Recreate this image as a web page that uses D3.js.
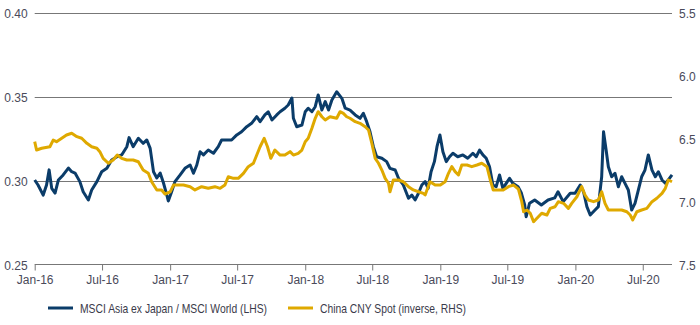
<!DOCTYPE html>
<html><head><meta charset="utf-8">
<script src="https://cdn.jsdelivr.net/npm/d3@7"></script>
<style>
html,body{margin:0;padding:0;background:#fff;}
svg text{font-family:"Liberation Sans",Arial,sans-serif;}
</style></head>
<body><svg id="c" width="700" height="325"></svg>
<script>
const seriesNames = ["MSCI Asia ex Japan / MSCI World (LHS)", "China CNY Spot (inverse, RHS)"];
const leftTicks = [0.25, 0.30, 0.35, 0.40];
const rightTicks = [5.5, 6.0, 6.5, 7.0, 7.5];
const xTickLabels = ["Jan-16","Jul-16","Jan-17","Jul-17","Jan-18","Jul-18","Jan-19","Jul-19","Jan-20","Jul-20"];
const xTickDates = ["2016-01-01","2016-07-01","2017-01-01","2017-07-01","2018-01-01","2018-07-01","2019-01-01","2019-07-01","2020-01-01","2020-07-01"];

const msciDates = ["2016-01-01","2016-01-10","2016-01-24","2016-02-02","2016-02-09","2016-02-16","2016-02-25","2016-03-05","2016-03-18","2016-04-01","2016-04-10","2016-04-19","2016-05-02","2016-05-11","2016-05-25","2016-06-03","2016-06-17","2016-06-30","2016-07-14","2016-07-27","2016-08-10","2016-08-23","2016-09-06","2016-09-12","2016-09-23","2016-10-07","2016-10-20","2016-10-30","2016-11-08","2016-11-17","2016-11-26","2016-12-05","2016-12-14","2016-12-23","2016-12-27","2017-01-05","2017-01-14","2017-01-28","2017-02-10","2017-02-24","2017-03-05","2017-03-14","2017-03-23","2017-04-01","2017-04-14","2017-04-28","2017-05-11","2017-05-20","2017-06-03","2017-06-16","2017-06-30","2017-07-13","2017-07-27","2017-08-09","2017-08-23","2017-09-01","2017-09-14","2017-09-23","2017-10-03","2017-10-16","2017-10-25","2017-11-07","2017-11-16","2017-11-26","2017-11-30","2017-12-09","2017-12-23","2018-01-01","2018-01-09","2018-01-19","2018-01-28","2018-02-05","2018-02-15","2018-02-24","2018-03-05","2018-03-14","2018-03-27","2018-04-10","2018-04-19","2018-05-02","2018-05-16","2018-05-29","2018-06-07","2018-06-16","2018-06-25","2018-07-04","2018-07-13","2018-07-27","2018-08-09","2018-08-18","2018-09-01","2018-09-10","2018-09-23","2018-10-07","2018-10-16","2018-10-25","2018-11-03","2018-11-12","2018-11-21","2018-11-29","2018-12-07","2018-12-16","2018-12-23","2018-12-31","2019-01-08","2019-01-17","2019-01-26","2019-02-04","2019-02-17","2019-03-03","2019-03-16","2019-03-30","2019-04-08","2019-04-17","2019-04-26","2019-05-05","2019-05-14","2019-05-23","2019-06-01","2019-06-10","2019-06-19","2019-06-28","2019-07-07","2019-07-16","2019-07-30","2019-08-08","2019-08-17","2019-08-21","2019-08-30","2019-09-13","2019-10-01","2019-10-19","2019-11-06","2019-11-15","2019-11-29","2019-12-18","2019-12-31","2020-01-14","2020-01-23","2020-02-01","2020-02-10","2020-02-23","2020-03-03","2020-03-12","2020-03-17","2020-03-24","2020-03-30","2020-04-08","2020-04-17","2020-04-26","2020-05-05","2020-05-14","2020-05-23","2020-06-01","2020-06-10","2020-06-19","2020-06-28","2020-07-07","2020-07-16","2020-07-26","2020-08-04","2020-08-12","2020-08-22","2020-08-31","2020-09-08","2020-09-18"];
const msciValues = [0.3008,0.2978,0.2918,0.2978,0.3068,0.2958,0.2930,0.3008,0.3038,0.3079,0.3057,0.3049,0.2998,0.2938,0.2889,0.2948,0.2998,0.3057,0.3077,0.3127,0.3146,0.3157,0.3206,0.3260,0.3206,0.3256,0.3226,0.3246,0.3196,0.3057,0.3020,0.3049,0.2990,0.2918,0.2883,0.2938,0.2998,0.3038,0.3077,0.3097,0.3048,0.3097,0.3176,0.3157,0.3186,0.3167,0.3206,0.3246,0.3246,0.3246,0.3276,0.3295,0.3325,0.3345,0.3385,0.3355,0.3395,0.3414,0.3365,0.3395,0.3414,0.3435,0.3454,0.3496,0.3375,0.3325,0.3335,0.3414,0.3435,0.3414,0.3444,0.3514,0.3424,0.3474,0.3424,0.3484,0.3533,0.3494,0.3435,0.3424,0.3395,0.3375,0.3405,0.3355,0.3295,0.3206,0.3146,0.3137,0.3117,0.3077,0.3067,0.3018,0.2978,0.2899,0.2918,0.2889,0.2929,0.2978,0.2998,0.2958,0.3057,0.3117,0.3206,0.3276,0.3176,0.3117,0.3146,0.3167,0.3146,0.3157,0.3137,0.3167,0.3146,0.3186,0.3157,0.3137,0.3087,0.2978,0.2968,0.3038,0.2958,0.2988,0.3018,0.2988,0.2968,0.2930,0.2859,0.2789,0.2869,0.2889,0.2859,0.2889,0.2901,0.2938,0.2879,0.2929,0.2929,0.2978,0.2938,0.2849,0.2799,0.2829,0.2849,0.3027,0.3295,0.3186,0.3087,0.3027,0.3048,0.2968,0.3027,0.2988,0.2948,0.2829,0.2869,0.2948,0.3027,0.3067,0.3157,0.3067,0.3027,0.3057,0.3008,0.2988,0.3008,0.3038];

const cnyDates = ["2016-01-01","2016-01-06","2016-01-20","2016-02-11","2016-02-20","2016-02-29","2016-03-14","2016-03-27","2016-04-10","2016-04-24","2016-05-07","2016-05-21","2016-06-03","2016-06-17","2016-06-25","2016-07-04","2016-07-18","2016-07-31","2016-08-11","2016-08-23","2016-09-06","2016-09-23","2016-10-07","2016-10-20","2016-11-03","2016-11-12","2016-11-26","2016-12-09","2016-12-18","2017-01-01","2017-01-10","2017-01-23","2017-02-06","2017-02-24","2017-03-09","2017-03-27","2017-04-14","2017-05-02","2017-05-16","2017-05-29","2017-06-07","2017-06-21","2017-07-04","2017-07-18","2017-07-31","2017-08-14","2017-08-23","2017-09-01","2017-09-12","2017-09-21","2017-09-30","2017-10-11","2017-10-25","2017-11-07","2017-11-21","2017-11-30","2017-12-13","2017-12-23","2018-01-01","2018-01-09","2018-01-19","2018-01-28","2018-02-05","2018-02-15","2018-02-24","2018-03-09","2018-03-27","2018-04-05","2018-04-14","2018-04-23","2018-05-02","2018-05-16","2018-05-29","2018-06-12","2018-06-21","2018-06-30","2018-07-09","2018-07-18","2018-07-27","2018-08-05","2018-08-14","2018-08-18","2018-08-27","2018-09-10","2018-09-23","2018-10-07","2018-10-20","2018-11-03","2018-11-16","2018-11-21","2018-12-04","2018-12-18","2019-01-01","2019-01-14","2019-01-23","2019-02-01","2019-02-10","2019-02-19","2019-02-28","2019-03-14","2019-03-27","2019-04-10","2019-04-23","2019-05-07","2019-05-16","2019-05-24","2019-06-07","2019-06-20","2019-07-04","2019-07-18","2019-07-31","2019-08-09","2019-08-14","2019-08-23","2019-09-01","2019-09-10","2019-09-19","2019-10-02","2019-10-16","2019-10-25","2019-11-07","2019-11-16","2019-11-30","2019-12-13","2019-12-22","2020-01-05","2020-01-18","2020-01-27","2020-02-05","2020-02-19","2020-03-03","2020-03-12","2020-03-21","2020-03-30","2020-04-17","2020-05-05","2020-05-19","2020-05-28","2020-06-04","2020-06-15","2020-06-28","2020-07-12","2020-07-26","2020-08-08","2020-08-22","2020-08-31","2020-09-08","2020-09-18"];
const cnyValues = [6.519,6.585,6.571,6.559,6.506,6.519,6.492,6.466,6.452,6.479,6.492,6.532,6.559,6.571,6.598,6.651,6.690,6.664,6.625,6.651,6.664,6.664,6.678,6.744,6.770,6.837,6.902,6.902,6.934,6.918,6.863,6.863,6.863,6.876,6.902,6.876,6.889,6.876,6.889,6.863,6.797,6.810,6.810,6.770,6.717,6.690,6.625,6.559,6.492,6.559,6.651,6.585,6.625,6.625,6.598,6.625,6.611,6.585,6.519,6.492,6.413,6.333,6.281,6.321,6.347,6.321,6.333,6.281,6.294,6.321,6.333,6.360,6.373,6.400,6.426,6.532,6.651,6.690,6.744,6.810,6.849,6.916,6.823,6.823,6.837,6.876,6.902,6.916,6.929,6.942,6.837,6.863,6.863,6.837,6.770,6.717,6.757,6.783,6.704,6.704,6.717,6.704,6.690,6.717,6.823,6.902,6.902,6.902,6.876,6.863,6.895,6.995,7.075,7.061,7.087,7.154,7.127,7.087,7.101,7.048,7.035,6.995,7.008,7.048,7.008,6.956,6.876,6.942,6.982,6.995,6.982,6.916,7.008,7.061,7.061,7.061,7.075,7.101,7.140,7.075,7.061,7.048,6.995,6.968,6.929,6.889,6.823,6.837];

const colors = ["#0b3c69", "#dfa900"];
const parse = d3.timeParse("%Y-%m-%d");
const svg = d3.select("#c");
const plotLeft = 34.7, plotRight = 672, plotTop = 13.3, plotBottom = 265.3;

const x = d3.scaleTime().domain([parse("2016-01-01"), parse("2020-09-18")]).range([plotLeft, plotRight]);
const yL = d3.scaleLinear().domain([0.25, 0.40]).range([plotBottom, plotTop]);
const yR = d3.scaleLinear().domain([7.5, 5.5]).range([plotBottom, plotTop]);

// gridlines
svg.append("g").selectAll("line").data(leftTicks.filter(t => t > 0.25)).join("line")
  .attr("x1", plotLeft).attr("x2", plotRight)
  .attr("y1", d => Math.round(yL(d)) + 0.5).attr("y2", d => Math.round(yL(d)) + 0.5)
  .attr("stroke", "#777").attr("stroke-width", 1);

// x axis
const xAxis = d3.axisBottom(x).tickValues(xTickDates.map(parse))
  .tickFormat((d, i) => xTickLabels[i]).tickSize(6).tickSizeOuter(0).tickPadding(5);
const gx = svg.append("g").attr("transform", `translate(0,${Math.round(plotBottom) - 0.5})`).call(xAxis);
gx.select(".domain").attr("stroke", "#777").attr("d", `M${plotLeft},0H${plotRight}`);
gx.selectAll(".tick line").attr("stroke", "#777");
gx.selectAll(".tick text").attr("fill", "#4a4a5a").style("font-size", "12px");

// left axis labels
const gl = svg.append("g").attr("transform", `translate(${plotLeft},0)`)
  .call(d3.axisLeft(yL).tickValues(leftTicks).tickFormat(d3.format(".2f")).tickSize(0).tickPadding(7));
gl.select(".domain").remove();
gl.selectAll("text").attr("fill", "#4a4a5a").style("font-size", "12px");

// right axis labels
const gr = svg.append("g").attr("transform", `translate(${plotRight},0)`)
  .call(d3.axisRight(yR).tickValues(rightTicks).tickFormat(d3.format(".1f")).tickSize(0).tickPadding(7));
gr.select(".domain").remove();
gr.selectAll("text").attr("fill", "#4a4a5a").style("font-size", "12px");

// lines
const msci = msciDates.map((d, i) => ({ date: parse(d), v: msciValues[i] }));
const cny = cnyDates.map((d, i) => ({ date: parse(d), v: cnyValues[i] }));
svg.append("path").datum(msci)
  .attr("d", d3.line().x(d => x(d.date)).y(d => yL(d.v)))
  .attr("fill", "none").attr("stroke", colors[0]).attr("stroke-width", 3).attr("stroke-linejoin", "round");
svg.append("path").datum(cny)
  .attr("d", d3.line().x(d => x(d.date)).y(d => yR(d.v)))
  .attr("fill", "none").attr("stroke", colors[1]).attr("stroke-width", 3).attr("stroke-linejoin", "round");

// legend
const legX = [48, 288];
const legTextLen = [187, 146];
const lg = svg.append("g").selectAll("g").data(seriesNames).join("g")
  .attr("transform", (d, i) => `translate(${legX[i]},308)`);
lg.append("line").attr("x1", 0).attr("x2", 25).attr("y1", 0).attr("y2", 0)
  .attr("stroke", (d, i) => colors[i]).attr("stroke-width", 3);
lg.append("text").attr("x", 32).attr("y", 4.8).text(d => d)
  .attr("textLength", (d, i) => legTextLen[i]).attr("lengthAdjust", "spacingAndGlyphs")
  .attr("fill", "#3a3a4a").style("font-size", "13.5px");
</script></body></html>
